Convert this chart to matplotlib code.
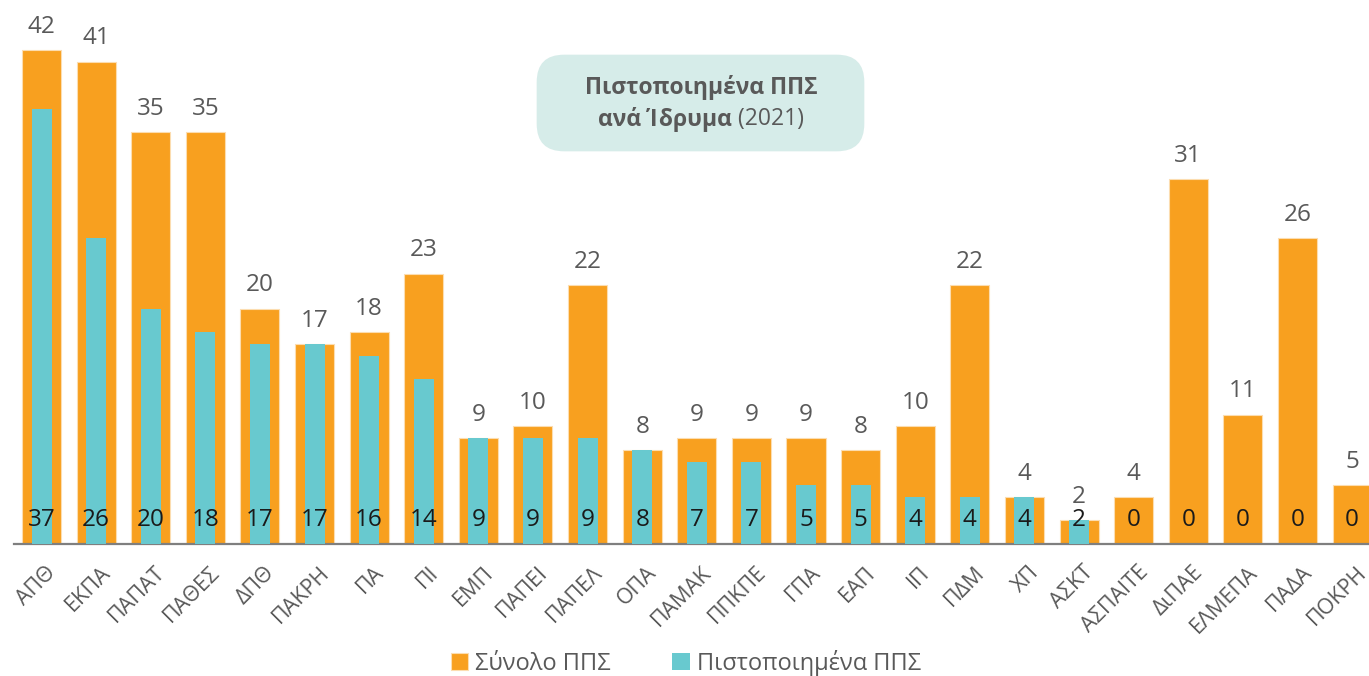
import matplotlib
matplotlib.use("Agg")
import matplotlib.pyplot as plt
from matplotlib.patches import FancyBboxPatch
import matplotlib.transforms as mtransforms

plt.rcParams['font.family'] = ['Open Sans', 'DejaVu Sans']

institutions = ["ΑΠΘ", "ΕΚΠΑ", "ΠΑΠΑΤ", "ΠΑΘΕΣ", "ΔΠΘ", "ΠΑΚΡΗ", "ΠΑ", "ΠΙ", "ΕΜΠ",
                "ΠΑΠΕΙ", "ΠΑΠΕΛ", "ΟΠΑ", "ΠΑΜΑΚ", "ΠΠΚΠΕ", "ΓΠΑ", "ΕΑΠ", "ΙΠ", "ΠΔΜ",
                "ΧΠ", "ΑΣΚΤ", "ΑΣΠΑΙΤΕ", "ΔιΠΑΕ", "ΕΛΜΕΠΑ", "ΠΑΔΑ", "ΠΟΚΡΗ"]
total_pps = [42, 41, 35, 35, 20, 17, 18, 23, 9, 10, 22, 8, 9, 9, 9, 8, 10, 22,
             4, 2, 4, 31, 11, 26, 5]
certified_pps = [37, 26, 20, 18, 17, 17, 16, 14, 9, 9, 9, 8, 7, 7, 5, 5, 4, 4,
                 4, 2, 0, 0, 0, 0, 0]
series_names = ["Σύνολο ΠΠΣ", "Πιστοποιημένα ΠΠΣ"]

ORANGE = "#F8A01F"
TEAL = "#68C9CF"
GRAY = "#595959"

W, H = 1369, 676
fig = plt.figure(figsize=(W / 100, H / 100), dpi=100)
ax = fig.add_axes([14 / W, (H - 544) / H, (W - 14) / W, 544 / H])

x = list(range(len(institutions)))
b1 = ax.bar(x, total_pps, width=0.715, color=ORANGE, edgecolor="#FCDDB0", linewidth=0.8,
            label=series_names[0], zorder=2)
b2 = ax.bar(x, certified_pps, width=0.366, color=TEAL, label=series_names[1], zorder=3)

ax.set_xlim(-0.504, 24.31)
ax.set_ylim(0, 544 / 11.76)

for xi, v in zip(x, total_pps):
    ax.annotate(str(v), (xi, v), xytext=(0, 12.5), textcoords="offset points",
                ha="center", va="baseline", fontsize=17.5, color=GRAY, zorder=5)
for xi, v in zip(x, certified_pps):
    ax.annotate(str(v), (xi, 0), xytext=(0, 13), textcoords="offset points",
                ha="center", va="baseline", fontsize=17.5, color="#1a1a1a", zorder=5)

for s in ["top", "left", "right"]:
    ax.spines[s].set_visible(False)
ax.spines["bottom"].set_color("#7f7f7f")
ax.spines["bottom"].set_linewidth(1.6)
ax.set_yticks([])
ax.set_xticks(x)
ax.set_xticklabels(institutions, rotation=45, ha="right", va="top", rotation_mode="anchor",
                   fontsize=15.5, color=GRAY)
ax.tick_params(axis="x", length=0, pad=13)
shift = mtransforms.ScaledTranslation(4 / 100, 0, fig.dpi_scale_trans)
for lab in ax.get_xticklabels():
    lab.set_transform(lab.get_transform() + shift)

leg = fig.legend(handles=[b1, b2], labels=series_names, loc="center",
                 bbox_to_anchor=(686 / W, 1 - 663 / H), ncol=2, frameon=False,
                 fontsize=17, handlelength=0.75, handleheight=0.75, handletextpad=0.3,
                 columnspacing=2.6)
for t in leg.get_texts():
    t.set_color(GRAY)

# title box
box = FancyBboxPatch((549 / W, 1 - 139 / H), (852 - 549) / W, (139 - 67) / H,
                     boxstyle="round,pad=0.009,rounding_size=0.02",
                     transform=fig.transFigure, facecolor="#D6ECE9", edgecolor="none",
                     zorder=10, mutation_aspect=W / H)
fig.patches.append(box)

cx = 701 / W
fig.text(cx, 1 - 87 / H, "Πιστοποιημένα ΠΠΣ", ha="center", va="center", fontsize=16.5,
         fontweight="bold", color=GRAY, zorder=11)
t1 = fig.text(0, 1 - 119 / H, "ανά Ίδρυμα", ha="left", va="center", fontsize=16.5,
              fontweight="bold", color=GRAY, zorder=11)
t2 = fig.text(0, 1 - 119 / H, " (2021)", ha="left", va="center", fontsize=16.5,
              color=GRAY, zorder=11)
fig.canvas.draw()
r = fig.canvas.get_renderer()
w1 = t1.get_window_extent(r).width / W
w2 = t2.get_window_extent(r).width / W
start = cx - (w1 + w2) / 2
t1.set_x(start)
t2.set_x(start + w1)

fig.savefig("out.png", dpi=100)
